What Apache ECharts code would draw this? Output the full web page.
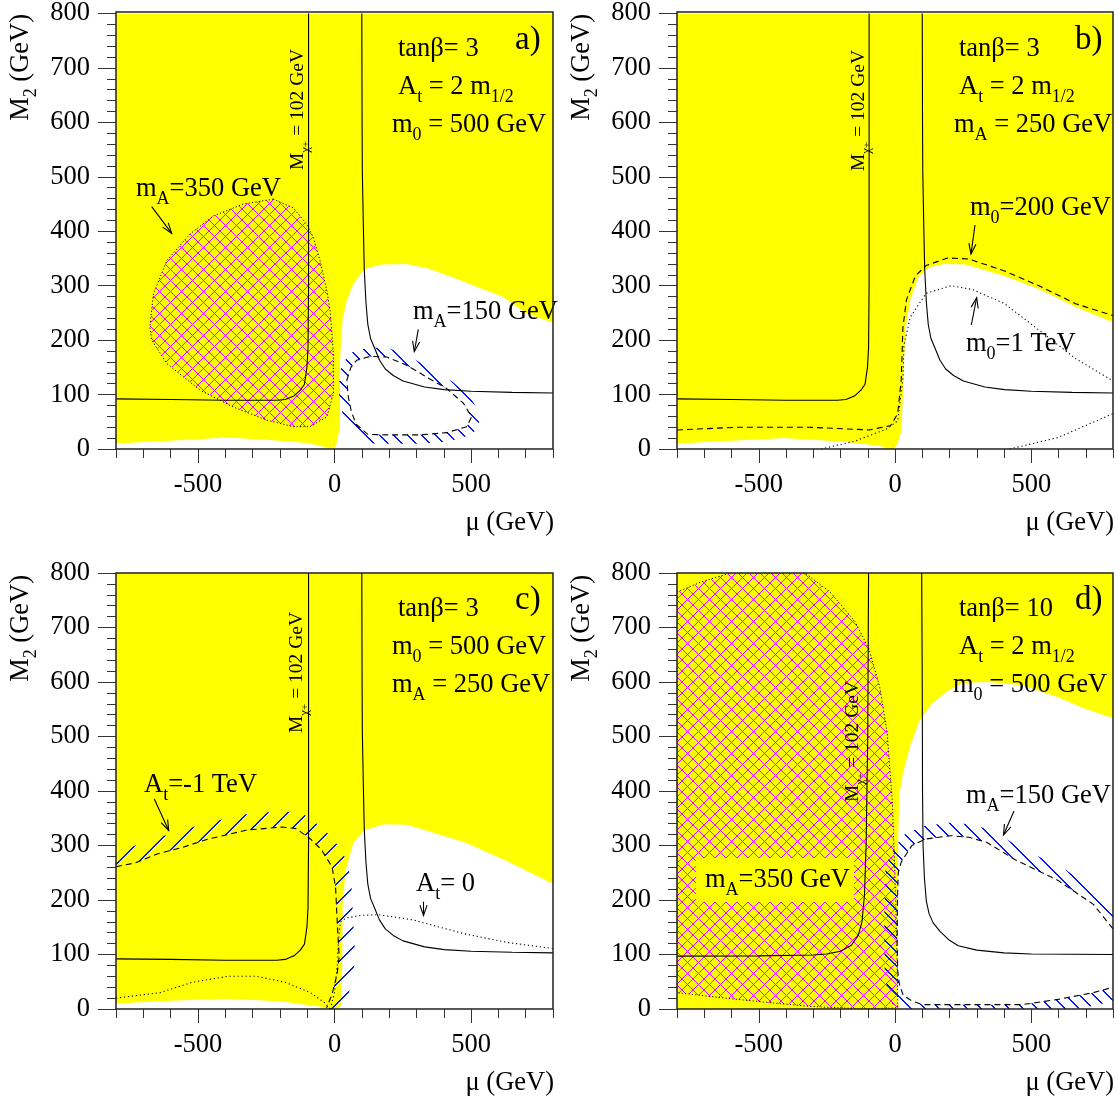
<!DOCTYPE html>
<html><head><meta charset="utf-8">
<script src="https://cdn.jsdelivr.net/npm/echarts@6/dist/echarts.min.js"></script>
<style>html,body{margin:0;padding:0;background:#fff}#c{width:1118px;height:1101px}</style>
</head><body><div id="c"></div>
<script>
// ---------------- DATA (mu [GeV], M2 [GeV]) ----------------
const xMajorTicks = [-500, 0, 500];

// panel a) tanb=3, At=2m1/2, m0=500
const aYellow = [[-800,800],[800,800],[800,232],[700,250],[618,279],[520,298],[435,315],[340,332],[264,340],[173,339],[130,334],[105,328],[69,303],[45,273],[30,240],[26,212],[20,160],[20,120],[20,41],[8,10],[-2,0],[-20,2],[-100,11],[-250,17],[-400,21],[-600,15],[-800,10]];
const aCross = [[-224,459],[-334,450],[-444,428],[-529,395],[-614,346],[-663,285],[-676,224],[-669,200],[-614,157],[-492,108],[-370,77],[-248,53],[-151,41],[-90,41],[-28,59],[-4,102],[-4,175],[-16,254],[-28,291],[-53,346],[-78,389],[-102,413],[-151,443],[-224,459]];
const aMA150 = [[45,126],[60,150],[81,163],[130,170],[191,169],[264,154],[338,132],[411,111],[472,84],[502,59],[484,41],[411,30],[313,26],[191,26],[122,27],[80,45],[62,68],[51,95],[45,126]];

// chargino contour M_chi+ = 102 GeV, tanb=3
const chiLeft3 = [[-800,92],[-600,91],[-400,89.5],[-212,89.5],[-180,91],[-147,98],[-125,108],[-110,119],[-101,150],[-97,185],[-95,300],[-95,800]];
const chiRight3 = [[100,800],[101,600],[102,507],[106,400],[109,330],[115,270],[122,229],[132,203],[147,185],[165,163],[186,147],[215,135],[251,125],[330,114],[402,109],[500,106],[650,104],[800,103]];

// panel b) tanb=3, At=2m1/2, mA=250
const bYellow = [[-800,800],[800,800],[800,233],[663,261],[532,293],[402,318],[258,339],[180,340],[127,334],[88,318],[56,274],[39,223],[33,160],[29,97],[23,33],[10,10],[-3,0],[-29,0],[-55,6],[-200,14],[-408,20],[-600,15],[-800,10]];
const bM0200 = [[-800,35],[-578,40],[-317,40],[-95,35],[-16,43],[10,65],[23,128],[29,223],[42,274],[75,318],[114,337],[193,351],[271,349],[402,327],[532,299],[663,267],[800,245]];
const bM01000a = [[-271,0],[-147,14.5],[-29,37],[10,52],[29,128],[33,191],[56,242],[114,286],[206,300],[284,293],[402,267],[532,217],[663,166],[800,125]];
const bM01000b = [[421,0],[598,21],[800,65]];

// panel c) tanb=3, m0=500, mA=250
const cYellow = [[-800,800],[800,800],[800,230],[633,271],[476,306],[266,338],[181,339],[109,328],[70,306],[41,255],[30,192],[28,65],[24,8],[10,0],[-20,0],[-49,4],[-200,14],[-403,19],[-600,15],[-800,10]];
const cAtm1 = [[-800,261],[-730,268],[-652,284],[-560,296],[-468,311],[-324,328],[-193,334],[-140,331],[-88,312],[-49,293],[-9,261],[4,223],[10,160],[17,97],[10,65],[-9,27],[-29,2]];
const cAt0a = [[-800,20],[-639,30],[-521,49],[-390,60],[-285,60],[-180,49],[-88,30],[-35,11],[-16,0]];
const cAt0b = [[-15,0],[0,30],[10,80],[15,130],[22,160],[43,167],[100,172],[161,173],[230,168],[292,163],[400,148],[476,138],[633,122],[800,111]];

// panel d) tanb=10, At=2m1/2, m0=500
const dYellow = [[-800,800],[800,800],[800,534],[702,550],[598,572],[467,594],[336,600],[245,598],[186,581],[134,559],[88,527],[56,483],[29,432],[16,395],[12,318],[10,192],[10,34],[14,0],[-800,0]];
const dCross = [[-800,765],[-709,784],[-604,800],[-330,800],[-238,765],[-147,711],[-95,660],[-56,591],[-29,508],[-10,382],[-3,287],[3,192],[8,80],[10,2],[-121,0],[-317,5],[-447,11],[-643,21],[-800,30],[-800,765]];
const dMA150 = [[800,147],[728,192],[598,236],[441,274],[336,306],[271,315],[206,318],[114,312],[62,300],[23,270],[12,250],[9,200],[8,120],[10,70],[16,46],[30,25],[62,14.6],[101,8],[300,8],[467,8],[598,17.7],[728,30],[800,40]];
const chiLeft10 = [[-800,97],[-500,97.5],[-300,99],[-251,101],[-200,106],[-160,117],[-135,135],[-121,160],[-112,210],[-106,300],[-100,500],[-97,800]];
const chiRight10 = [[98,800],[100,600],[101,400],[103,300],[108,240],[115,198],[125,175],[140,158],[166,142],[200,126],[232,116],[300,108],[400,103],[500,101],[800,100]];

// ---------------- STYLE / LAYOUT ----------------
const FONT = "'Liberation Serif', 'Times New Roman', serif";
const FS = 26.5;
const YELLOW = '#ffff00';
const grids = [
  {left:116, top:12, width:437, height:437},
  {left:677, top:12, width:436, height:437},
  {left:116, top:573, width:437, height:436},
  {left:677, top:573, width:436, height:436}
];

// crisp (pixel-stepped) diagonal line patterns
function makePattern(period, color, dirs, lw) {
  const c = document.createElement('canvas');
  c.width = period; c.height = period;
  const g = c.getContext('2d');
  g.fillStyle = color;
  dirs.forEach(function(d){
    for (let i = 0; i < period; i++) {
      for (let w = 0; w < lw; w++) {
        const x = d === 'back' ? (i + w) % period : (period - 1 - i + w + period) % period;
        g.fillRect(x, i, 1, 1);
      }
    }
  });
  return {image: c, repeat: 'repeat'};
}
const crossPat = makePattern(11, '#ff00ff', ['back','fwd'], 1);
const hatchBack = makePattern(14, '#0018ff', ['back'], 2);
const hatchFwd = makePattern(20, '#0018ff', ['fwd'], 2);

function clipOf(params){
  const cs = params.coordSys;
  return {type:'rect', shape:{x:cs.x, y:cs.y, width:cs.width, height:cs.height}};
}
function polySeries(gi, pts, style, z){
  return {type:'custom', coordinateSystem:'cartesian2d', xAxisIndex: gi*2, yAxisIndex: gi, z: z, silent:true,
    data: pts,
    renderItem: function(params, api){
      if (params.dataIndex !== 0) return null;
      const px = pts.map(function(p){ return api.coord(p); });
      return {type:'polygon', shape:{points:px}, style: style, clipPath: clipOf(params)};
    }};
}
function bandSeries(gi, pts, side, width, pattern){
  return {type:'custom', coordinateSystem:'cartesian2d', xAxisIndex: gi*2, yAxisIndex: gi, z: 3, silent:true,
    data: pts,
    renderItem: function(params, api){
      if (params.dataIndex !== 0) return null;
      const p = pts.map(function(q){ return api.coord(q); });
      const n = p.length, segN = [];
      for (let i=0;i<n-1;i++){
        const dx=p[i+1][0]-p[i][0], dy=p[i+1][1]-p[i][1], L=Math.hypot(dx,dy)||1;
        segN.push([dy/L*side, -dx/L*side]);
      }
      const off = [];
      for (let i=0;i<n;i++){
        const a = segN[Math.max(0,i-1)], b = segN[Math.min(n-2,i)];
        let mx=a[0]+b[0], my=a[1]+b[1], ml=Math.hypot(mx,my);
        if (ml<1e-6){ mx=b[0]; my=b[1]; ml=1; }
        mx/=ml; my/=ml;
        const dot = mx*b[0]+my*b[1];
        const s = width/Math.max(dot,0.4);
        off.push([p[i][0]+mx*s, p[i][1]+my*s]);
      }
      const poly = p.concat(off.reverse());
      return {type:'polygon', shape:{points:poly}, style:{fill:pattern, stroke:null}, clipPath: clipOf(params)};
    }};
}
function lineSeries(gi, pts, dash){
  return {type:'line', xAxisIndex: gi*2, yAxisIndex: gi, z: 4, silent:true, data: pts,
    showSymbol:false, symbol:'none', clip:true,
    lineStyle:{color:'#000', width:1.1, type: dash}};
}

const DASH = [6,4], DOT = [1.2,2.8];
const CROSS_STYLE = {fill:crossPat, stroke:'#000', lineWidth:1, lineDash:[1.2,2.2]};
const series = [
  // a
  polySeries(0, aYellow, {fill:YELLOW, stroke:null}, 1),
  polySeries(0, aCross, CROSS_STYLE, 2),
  bandSeries(0, aMA150, 1, 9, hatchBack),
  lineSeries(0, aMA150, DASH),
  lineSeries(0, chiLeft3, 'solid'),
  lineSeries(0, chiRight3, 'solid'),
  // b
  polySeries(1, bYellow, {fill:YELLOW, stroke:null}, 1),
  lineSeries(1, bM0200, DASH),
  lineSeries(1, bM01000a, DOT),
  lineSeries(1, bM01000b, DOT),
  lineSeries(1, chiLeft3, 'solid'),
  lineSeries(1, chiRight3, 'solid'),
  // c
  polySeries(2, cYellow, {fill:YELLOW, stroke:null}, 1),
  bandSeries(2, cAtm1, 1, 16, hatchFwd),
  lineSeries(2, cAtm1, DASH),
  lineSeries(2, cAt0a, DOT),
  lineSeries(2, cAt0b, DOT),
  lineSeries(2, chiLeft3, 'solid'),
  lineSeries(2, chiRight3, 'solid'),
  // d
  polySeries(3, dYellow, {fill:YELLOW, stroke:null}, 1),
  polySeries(3, dCross, CROSS_STYLE, 2),
  bandSeries(3, dMA150, -1, 13, hatchBack),
  lineSeries(3, dMA150, DASH),
  lineSeries(3, chiLeft10, 'solid'),
  lineSeries(3, chiRight10, 'solid')
];

const xAxes = [], yAxes = [];
const tickColor = '#333';
grids.forEach(function(g, i){
  xAxes.push({gridIndex:i, type:'value', min:-800, max:800, interval:100, position:'bottom',
    axisLine:{show:false, onZero:false},
    axisTick:{show:true, length:9, lineStyle:{color:tickColor, width:1}},
    axisLabel:{show:true, customValues:xMajorTicks, margin:23, fontSize:FS, fontFamily:FONT, color:'#000'},
    splitLine:{show:false}});
  xAxes.push({gridIndex:i, type:'value', min:-800, max:800, interval:100, position:'bottom',
    axisLine:{show:false, onZero:false},
    axisTick:{show:true, length:14, customValues:xMajorTicks, lineStyle:{color:tickColor, width:1}},
    axisLabel:{show:false}, splitLine:{show:false}});
  yAxes.push({gridIndex:i, type:'value', min:0, max:800, interval:100, position:'left',
    axisLine:{show:false, onZero:false},
    axisTick:{show:true, length:18, lineStyle:{color:tickColor, width:1}},
    minorTick:{show:true, splitNumber:5, length:9, lineStyle:{color:tickColor, width:1}},
    axisLabel:{margin:26, fontSize:FS, fontFamily:FONT, color:'#000'},
    splitLine:{show:false}, minorSplitLine:{show:false}});
});

// ---------------- TEXT / ANNOTATIONS ----------------
function txt(x, y, text, o){
  o = o || {};
  const size = o.size || FS;
  const st = {text:text, fill:'#000', fontFamily:FONT, fontSize:size, align:o.align||'left', verticalAlign:'middle',
    lineHeight: o.lh || Math.round(size*1.44),
    rich:{
      s:{fontFamily:FONT, fontSize:Math.round(size*0.68), verticalAlign:'bottom', lineHeight:Math.round(size*0.64), fill:'#000'},
      p:{fontFamily:FONT, fontSize:Math.round(size*0.55), verticalAlign:'bottom', lineHeight:Math.round(size*1.1), fill:'#000'}
    }};
  if (o.bg) { st.backgroundColor = o.bg; st.padding = o.pad || [0,0,0,0]; }
  return {type:'text', x:x, y:y, rotation:o.rot||0, z:50, silent:true, style:st};
}
function arrow(x1,y1,x2,y2){
  const a = Math.atan2(y2-y1, x2-x1), L = 11, sp = 0.33;
  const p1 = [x2-L*Math.cos(a-sp), y2-L*Math.sin(a-sp)], p2 = [x2-L*Math.cos(a+sp), y2-L*Math.sin(a+sp)];
  return [
    {type:'line', z:50, silent:true, shape:{x1:x1,y1:y1,x2:x2,y2:y2}, style:{stroke:'#000', lineWidth:1.1}},
    {type:'polyline', z:50, silent:true, shape:{points:[p1,[x2,y2],p2]}, style:{stroke:'#000', lineWidth:1.1, fill:null}}
  ];
}
const chiText = 'M{s|χ}{p|+} = 102 GeV';
const R90 = Math.PI/2;
const CHI = {size:19.5, rot:R90};
let graphics = [];
grids.forEach(function(g){
  graphics.push({type:'rect', z:100, silent:true, shape:{x:g.left, y:g.top, width:g.width, height:g.height},
    style:{fill:null, stroke:'#222', lineWidth:1.5}});
  graphics.push(txt(g.left+g.width+1, g.top+g.height+74, 'μ (GeV)', {align:'right'}));
  graphics.push(txt(g.left-94.5, g.top+2, 'M{s|2} (GeV)', {align:'right', rot:R90}));
});
graphics = graphics.concat([
  // a
  txt(398, 49, 'tanβ= 3'), txt(398, 87, 'A{s|t} = 2 m{s|1/2}'), txt(392, 125, 'm{s|0} = 500 GeV'),
  txt(515, 40, 'a)', {size:33}), txt(136, 189, 'm{s|A}=350 GeV'), txt(413, 312, 'm{s|A}=150 GeV'),
  txt(298, 170, chiText, CHI),
  // b
  txt(959, 49, 'tanβ= 3'), txt(959, 87, 'A{s|t} = 2 m{s|1/2}'), txt(954, 125, 'm{s|A} = 250 GeV'),
  txt(1075, 40, 'b)', {size:33}), txt(970, 208, 'm{s|0}=200 GeV'), txt(966, 344, 'm{s|0}=1 TeV'),
  txt(859, 171, chiText, CHI),
  // c
  txt(398, 609, 'tanβ= 3'), txt(392, 647, 'm{s|0} = 500 GeV'), txt(392, 685, 'm{s|A} = 250 GeV'),
  txt(515, 600, 'c)', {size:33}), txt(144, 785, 'A{s|t}=-1 TeV'), txt(416, 884, 'A{s|t}= 0'),
  txt(297, 733, chiText, CHI),
  // d
  txt(959, 609, 'tanβ= 10'), txt(959, 647, 'A{s|t} = 2 m{s|1/2}'), txt(953, 685, 'm{s|0} = 500 GeV'),
  txt(1075, 600, 'd)', {size:33}), txt(966, 796, 'm{s|A}=150 GeV'),
  txt(696, 880, 'm{s|A}=350 GeV', {bg:YELLOW, pad:[3,4,3,9]}),
  txt(853, 802, chiText, CHI)
]);
graphics = graphics
  .concat(arrow(151.7,206.7,171.7,233.3)).concat(arrow(418.3,329.3,414.3,351.7))
  .concat(arrow(975,225,971,254)).concat(arrow(971.3,325,976.7,297.6))
  .concat(arrow(154.3,799,168.7,830.5)).concat(arrow(423.5,901.7,423.5,915.5))
  .concat(arrow(1014,811,1003.5,835));

const chart = echarts.init(document.getElementById('c'), null, {renderer:'canvas'});
chart.setOption({
  animation:false,
  backgroundColor:'#fff',
  grid: grids.map(function(g){ return {left:g.left, top:g.top, width:g.width, height:g.height, show:true, backgroundColor:'#fff', borderWidth:0}; }),
  xAxis: xAxes,
  yAxis: yAxes,
  series: series,
  graphic: graphics
});
</script></body></html>
